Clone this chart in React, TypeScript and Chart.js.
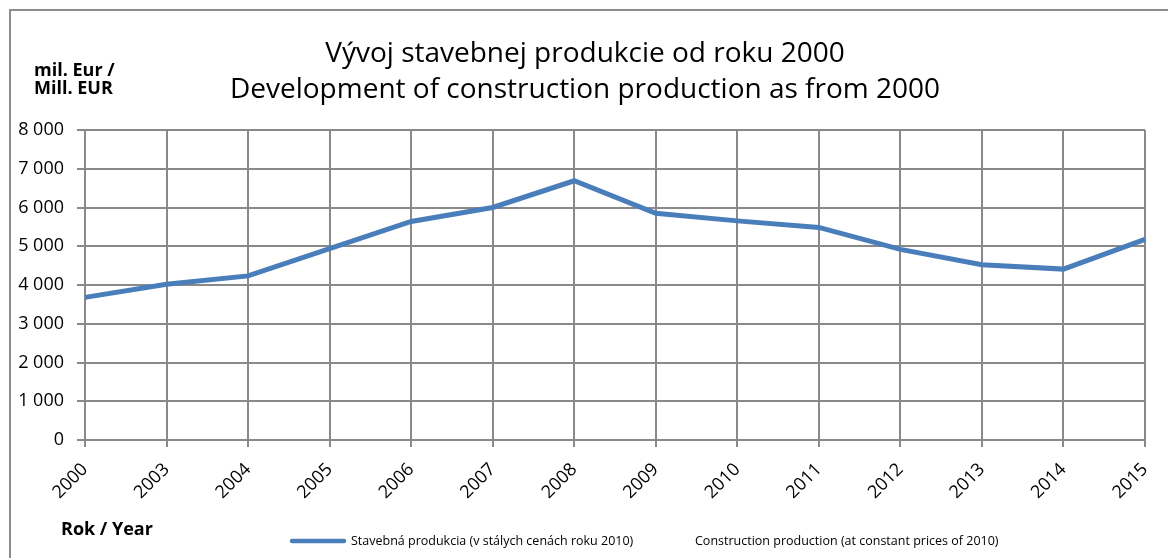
import React, { useEffect, useRef } from "react";
import { Chart, registerables } from "chart.js";

Chart.register(...registerables);

const years = ["2000", "2003", "2004", "2005", "2006", "2007", "2008", "2009", "2010", "2011", "2012", "2013", "2014", "2015"];
const production = [3680, 4020, 4235, 4940, 5640, 6000, 6690, 5850, 5655, 5485, 4920, 4525, 4410, 5175];
const yMin = 0;
const yMax = 8000;
const yStep = 1000;
const titleLines = ["Vývoj stavebnej produkcie od roku 2000", "Development of construction production as from 2000"];
const unitLines = ["mil. Eur /", "Mill. EUR"];
const xAxisTitle = "Rok / Year";
const legendLabels = ["Stavebná produkcia (v stálych cenách roku 2010)", "Construction production (at constant prices of 2010)"];

const LINE_COLOR = "#4a7ebb";
const GRID_COLOR = "#898989";
const FONT = '"Open Sans", "DejaVu Sans", sans-serif';

const W = 1157;
const H = 547;

const fmt = (v: number) => String(v).replace(/\B(?=(\d{3})+(?!\d))/g, " ");

const textPlugin = {
  id: "extraTexts",
  afterDraw(chart: any) {
    const ctx = chart.ctx as CanvasRenderingContext2D;
    ctx.save();
    ctx.fillStyle = "#000";
    ctx.textAlign = "center";
    ctx.textBaseline = "alphabetic";
    ctx.font = `28px ${FONT}`;
    ctx.fillText(titleLines[0], 574, 51);
    ctx.fillText(titleLines[1], 574, 87);

    ctx.textAlign = "left";
    ctx.font = `bold 18px ${FONT}`;
    ctx.fillText(unitLines[0], 23, 65);
    ctx.fillText(unitLines[1], 23, 83);

    ctx.font = `bold 18px ${FONT}`;
    ctx.fillText(xAxisTitle, 50, 524);

    // legend
    ctx.strokeStyle = LINE_COLOR;
    ctx.lineWidth = 4.5;
    ctx.lineCap = "round";
    ctx.beginPath();
    ctx.moveTo(281, 530);
    ctx.lineTo(333, 530);
    ctx.stroke();
    ctx.font = `12.5px ${FONT}`;
    ctx.textBaseline = "middle";
    ctx.fillText(legendLabels[0], 340, 530);
    ctx.fillText(legendLabels[1], 684, 530);
    ctx.restore();
  },
};

export default function App() {
  const ref = useRef<HTMLCanvasElement | null>(null);

  useEffect(() => {
    if (!ref.current) return;
    const chart = new Chart(ref.current, {
      type: "line",
      data: {
        labels: years,
        datasets: [
          {
            label: legendLabels[0],
            data: production,
            borderColor: LINE_COLOR,
            backgroundColor: LINE_COLOR,
            borderWidth: 5,
            pointRadius: 0,
            tension: 0,
            fill: false,
          },
        ],
      },
      options: {
        animation: false,
        responsive: false,
        layout: { padding: { top: 119, right: 23, left: 0, bottom: 0 } },
        plugins: {
          legend: { display: false },
          title: { display: false },
          tooltip: { enabled: false },
        },
        scales: {
          x: {
            type: "category",
            offset: false,
            grid: { color: GRID_COLOR, lineWidth: 2, tickLength: 7, drawTicks: true },
            border: { display: true, color: GRID_COLOR, width: 2 },
            ticks: {
              color: "#000",
              font: { family: FONT, size: 18 },
              maxRotation: 45,
              minRotation: 45,
              padding: 12,
              autoSkip: false,
            },
            afterFit: (s: any) => {
              s.height = 118;
              s.paddingRight = 0;
              s.paddingLeft = 0;
            },
          },
          y: {
            min: yMin,
            max: yMax,
            grid: { color: GRID_COLOR, lineWidth: 2, tickLength: 8 },
            border: { display: true, color: GRID_COLOR, width: 2 },
            ticks: {
              stepSize: yStep,
              color: "#000",
              font: { family: FONT, size: 18 },
              padding: 13,
              callback: (v: any) => fmt(Number(v)),
            },
            afterFit: (s: any) => {
              s.width = 74;
            },
          },
        },
      },
      plugins: [textPlugin],
    });
    return () => chart.destroy();
  }, []);

  return (
    <div
      style={{
        position: "fixed",
        left: 9,
        top: 9,
        width: 1200,
        height: 600,
        border: "2px solid #8c8c8c",
        background: "#fff",
        overflow: "hidden",
      }}
    >
      <canvas ref={ref} width={W} height={H} style={{ display: "block", width: W, height: H }} />
    </div>
  );
}
